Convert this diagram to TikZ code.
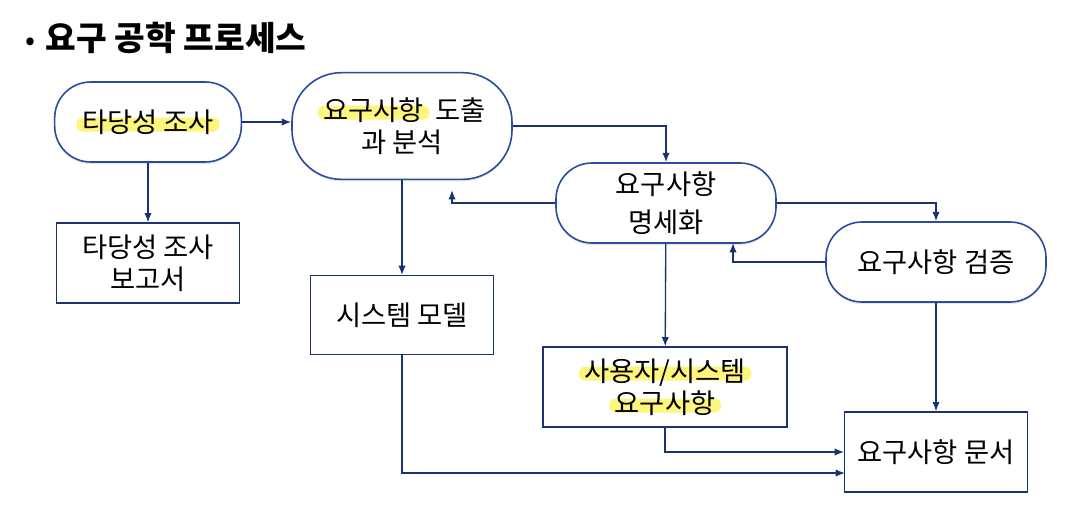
\documentclass[tikz,border=0pt]{standalone}
\usepackage{fontspec}
\setmainfont{Noto Sans CJK KR}
\usetikzlibrary{arrows.meta,shadows}

\definecolor{linenavy}{HTML}{1B3272}
\definecolor{edgeblue}{HTML}{2B4C9E}
\definecolor{hlyellow}{HTML}{FDF57C}

% yellow marker behind a word
\tikzset{hlbare/.style={inner sep=0pt, minimum width=0pt, minimum height=0pt, sharp corners}}
\newcommand\hlt[1]{\tikz[baseline=(hltext.base)]{%
  \node[hlbare] (hltext) {\phantom{#1}};
  \fill[hlyellow, rounded corners=5pt] ([xshift=-4pt,yshift=0.5pt]hltext.base west) rectangle ([xshift=4pt,yshift=11pt]hltext.base east);
  \node[hlbare] (hlword) at (hltext) {#1};}}

\begin{document}
\begin{tikzpicture}[
  x=0.75pt, y=-0.75pt,
  proc/.style={draw=edgeblue, line width=1.2pt, fill=white, rounded corners=27pt,
    minimum width=165pt, minimum height=60pt, align=center,
    font=\fontsize{20.5}{24}\selectfont,
    drop shadow={opacity=0.2, shadow xshift=0pt, shadow yshift=-1.5pt}},
  doc/.style={draw=linenavy, line width=1pt, fill=white, minimum width=137pt,
    minimum height=60pt, align=center, font=\fontsize{20.5}{24}\selectfont},
  conn/.style={draw=linenavy, line width=1pt, -{Latex[length=7pt,width=5.5pt]}}
]
\useasboundingbox (0,0) rectangle (1066,511);

% title
\node[anchor=west, inner sep=0pt, font=\fontsize{25}{30}\selectfont\bfseries] (title) at (25,38)
  {{\mdseries\fontsize{22}{22}\selectfont\textbullet}\hspace{8pt}요구 공학 프로세스};

% process steps
\node[proc, minimum width=140pt] (feas) at (148,122) {\hlt{타당성 조사}};
\node[proc, minimum height=80pt, rounded corners=37pt] (elic) at (402,126) {\hlt{요구사항} 도출\\과 분석};
\node[proc] (spec) at (666,203) {요구사항\\[4pt]명세화};
\node[proc] (valid) at (936,262) {요구사항 검증};

% documents
\node[doc] (feasdoc) at (148,263) {타당성 조사\\보고서};
\node[doc, minimum height=59pt] (sysmodel) at (402,315) {시스템 모델};
\node[doc, minimum width=183pt] (userreq) at (665,387) {\hlt{사용자/시스템}\\\hlt{요구사항}};
\node[doc] (reqdoc) at (936,452) {요구사항 문서};

% free ends
\coordinate (back1) at (452,190);
\coordinate (back2) at (733,243);
\coordinate (into2) at (845,473);

% connectors
\draw[conn] (feas.east) -- (feas.east -| elic.west);
\draw[conn] (feas) -- (feasdoc);
\draw[conn] (elic.east) -| (spec.north);
\draw[conn] (elic) -- (sysmodel);
\draw[conn] (spec.west) -| (back1);
\draw[conn] (spec.east) -| (valid.north);
\draw[conn] (valid.west) -| (back2);
\draw[conn] (spec) -- (userreq);
\draw[conn] (valid) -- (reqdoc);
\draw[conn] (userreq.south) |- (reqdoc.west);
\draw[conn] (sysmodel.south) |- (into2);
\end{tikzpicture}
\end{document}
